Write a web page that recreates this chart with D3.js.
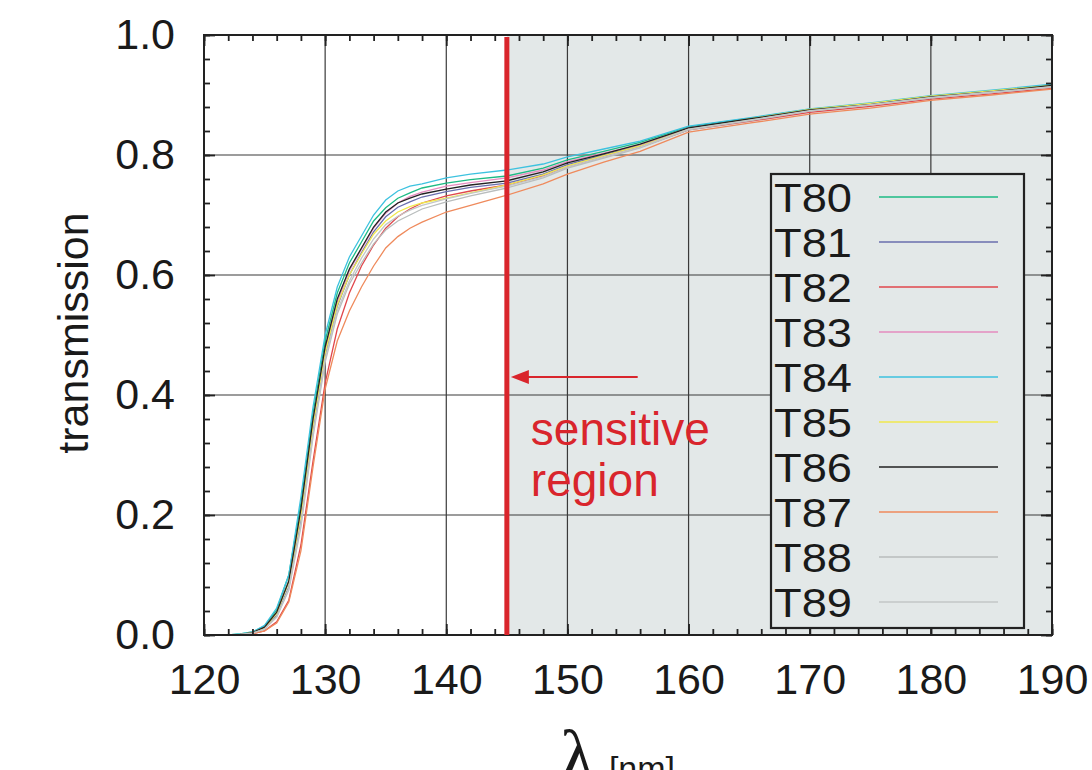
<!DOCTYPE html>
<html>
<head>
<meta charset="utf-8">
<script src="https://cdn.jsdelivr.net/npm/d3@7"></script>
<style>
  body { margin: 0; background: #fff; }
  svg { display: block; font-family: "Liberation Sans", Arial, sans-serif; }
</style>
</head>
<body>
<div id="chart"></div>
<script>
// wavelength grid [nm]
const wavelengths = [122,123,124,125,126,127,128,129,130,131,132,133,134,135,136,137,138,140,142,145,148,150,153,156,160,165,170,175,180,185,190];

const seriesNames = ['T80','T81','T82','T83','T84','T85','T86','T87','T88','T89'];
const seriesColors = ['#1dbb85','#6a6fae','#e0474c','#e58cbf','#3dc2df','#f0e84e','#222222','#ef8a5c','#b9bdbd','#c3c7c7'];

const T80 = [0,0.002,0.005,0.015,0.042,0.10,0.22,0.37,0.49,0.57,0.62,0.655,0.69,0.712,0.728,0.737,0.745,0.753,0.759,0.765,0.778,0.792,0.806,0.821,0.847,0.861,0.876,0.886,0.898,0.906,0.917];
const T81 = [0,0.001,0.003,0.011,0.032,0.08,0.19,0.34,0.465,0.548,0.60,0.637,0.672,0.697,0.713,0.722,0.73,0.739,0.746,0.753,0.768,0.784,0.80,0.815,0.844,0.859,0.875,0.885,0.897,0.906,0.915];
const T82 = [0,0.0,0.002,0.007,0.022,0.058,0.15,0.29,0.42,0.51,0.57,0.615,0.65,0.678,0.697,0.71,0.72,0.732,0.74,0.75,0.765,0.78,0.797,0.813,0.842,0.856,0.871,0.881,0.893,0.902,0.911];
const T83 = [0,0.001,0.004,0.013,0.037,0.09,0.205,0.355,0.475,0.555,0.607,0.643,0.678,0.703,0.72,0.731,0.738,0.748,0.754,0.762,0.775,0.789,0.803,0.817,0.845,0.859,0.874,0.884,0.896,0.904,0.914];
const T84 = [0,0.002,0.005,0.016,0.045,0.10,0.23,0.38,0.50,0.58,0.63,0.665,0.70,0.725,0.74,0.748,0.752,0.762,0.768,0.775,0.785,0.797,0.81,0.823,0.848,0.862,0.877,0.887,0.899,0.908,0.918];
const T85 = [0,0.001,0.004,0.012,0.036,0.088,0.20,0.35,0.47,0.55,0.60,0.635,0.668,0.69,0.705,0.714,0.72,0.728,0.737,0.75,0.767,0.782,0.799,0.815,0.843,0.86,0.876,0.886,0.898,0.907,0.916];
const T86 = [0,0.001,0.004,0.013,0.038,0.09,0.21,0.36,0.48,0.56,0.61,0.645,0.68,0.705,0.72,0.728,0.735,0.743,0.75,0.757,0.772,0.787,0.802,0.818,0.845,0.86,0.875,0.884,0.897,0.905,0.916];
const T87 = [0,0.0,0.002,0.007,0.02,0.055,0.14,0.28,0.41,0.49,0.54,0.58,0.615,0.645,0.664,0.678,0.688,0.705,0.716,0.733,0.752,0.768,0.788,0.806,0.838,0.853,0.868,0.878,0.891,0.90,0.91];
const T88 = [0,0.001,0.003,0.01,0.03,0.075,0.18,0.33,0.455,0.535,0.585,0.62,0.652,0.675,0.69,0.70,0.71,0.722,0.732,0.745,0.762,0.778,0.795,0.812,0.842,0.857,0.873,0.883,0.895,0.904,0.913];
const T89 = [0,0.001,0.003,0.01,0.03,0.078,0.185,0.335,0.46,0.54,0.59,0.628,0.66,0.684,0.698,0.708,0.716,0.727,0.736,0.748,0.764,0.78,0.797,0.813,0.843,0.858,0.874,0.884,0.896,0.905,0.914];

const seriesValues = [T80,T81,T82,T83,T84,T85,T86,T87,T88,T89];

const sensitiveEdge = 145;

var W = 1092, H = 770;
var margin = {top: 35, right: 40, bottom: 135, left: 204};
var width = 1052 - margin.left,
    height = 635 - margin.top;

var svg = d3.select('#chart').append('svg')
  .attr('width', W).attr('height', H);

var x = d3.scaleLinear().domain([120, 190]).range([0, width]);
var y = d3.scaleLinear().domain([0, 1]).range([height, 0]);

var g = svg.append('g').attr('transform', 'translate(' + margin.left + ',' + margin.top + ')');

// shaded sensitive region
g.append('rect')
  .attr('x', x(sensitiveEdge)).attr('y', 0)
  .attr('width', x(190) - x(sensitiveEdge)).attr('height', height)
  .attr('fill', '#e3e8e8');

// grid
g.selectAll('.gx').data(x.ticks(7).slice(1, -1)).enter().append('line')
  .attr('x1', d => x(d)).attr('x2', d => x(d))
  .attr('y1', 0).attr('y2', height)
  .attr('stroke', '#3a3a3a').attr('stroke-width', 1.2);
g.selectAll('.gy').data(y.ticks(5).slice(1, -1)).enter().append('line')
  .attr('x1', 0).attr('x2', width)
  .attr('y1', d => y(d)).attr('y2', d => y(d))
  .attr('stroke', '#3a3a3a').attr('stroke-width', 1.2);

// curves
var line = d3.line()
  .x((d, i) => x(wavelengths[i]))
  .y(d => y(d));

seriesValues.forEach(function(vals, k) {
  g.append('path')
    .datum(vals)
    .attr('d', line)
    .attr('fill', 'none')
    .attr('stroke', seriesColors[k])
    .attr('stroke-width', 1.3);
});

// axes: ticks inward on all four sides
var xMinor = d3.range(120, 191, 2);
var yMinor = d3.range(0, 1.001, 0.04);

function tickAxis(axisFn, scale, values, size, transform) {
  g.append('g')
    .attr('transform', transform || null)
    .call(axisFn(scale).tickValues(values).tickSize(size).tickFormat(''))
    .call(s => s.select('.domain').remove())
    .selectAll('line').attr('stroke', '#222').attr('stroke-width', 1.8);
}
tickAxis(d3.axisBottom, x, xMinor, -6, 'translate(0,' + height + ')');
tickAxis(d3.axisBottom, x, x.ticks(7), -11, 'translate(0,' + height + ')');
tickAxis(d3.axisTop, x, xMinor, -6);
tickAxis(d3.axisTop, x, x.ticks(7), -11);
tickAxis(d3.axisLeft, y, yMinor, -6);
tickAxis(d3.axisLeft, y, y.ticks(5), -11);
tickAxis(d3.axisRight, y, yMinor, -6, 'translate(' + width + ',0)');
tickAxis(d3.axisRight, y, y.ticks(5), -11, 'translate(' + width + ',0)');

// tick labels
g.append('g')
  .attr('transform', 'translate(0,' + height + ')')
  .call(d3.axisBottom(x).ticks(7).tickSize(0).tickPadding(28).tickFormat(d3.format('d')))
  .call(s => s.select('.domain').remove())
  .selectAll('text')
  .attr('font-size', 43).attr('fill', '#1a1a1a')
  .attr('font-family', '"Liberation Sans", Arial, sans-serif');

g.append('g')
  .call(d3.axisLeft(y).ticks(5).tickSize(0).tickPadding(29).tickFormat(d3.format('.1f')))
  .call(s => s.select('.domain').remove())
  .selectAll('text')
  .attr('font-size', 43).attr('fill', '#1a1a1a')
  .attr('font-family', '"Liberation Sans", Arial, sans-serif');

// frame
g.append('rect')
  .attr('width', width).attr('height', height)
  .attr('fill', 'none').attr('stroke', '#222').attr('stroke-width', 2);

// sensitive region marker
g.append('line')
  .attr('x1', x(sensitiveEdge)).attr('x2', x(sensitiveEdge))
  .attr('y1', 2).attr('y2', height)
  .attr('stroke', '#d9252c').attr('stroke-width', 5);

var arrowY = y(0.43);
g.append('line')
  .attr('x1', x(155.8)).attr('x2', x(sensitiveEdge) + 18)
  .attr('y1', arrowY).attr('y2', arrowY)
  .attr('stroke', '#d9252c').attr('stroke-width', 2);
g.append('path')
  .attr('d', 'M' + (x(sensitiveEdge) + 4) + ',' + arrowY +
             'L' + (x(sensitiveEdge) + 22) + ',' + (arrowY - 7) +
             'L' + (x(sensitiveEdge) + 22) + ',' + (arrowY + 7) + 'Z')
  .attr('fill', '#d9252c');

g.append('text')
  .attr('x', x(sensitiveEdge) + 24).attr('y', 445 - margin.top)
  .attr('font-size', 46).attr('fill', '#d9252c')
  .text('sensitive');
g.append('text')
  .attr('x', x(sensitiveEdge) + 24).attr('y', 496 - margin.top)
  .attr('font-size', 46).attr('fill', '#d9252c')
  .text('region');

// legend
var lx = 771 - margin.left, ly = 174 - margin.top, lw = 253, lh = 454;
var legend = g.append('g');
legend.append('rect')
  .attr('x', lx).attr('y', ly).attr('width', lw).attr('height', lh)
  .attr('fill', '#e3e8e8').attr('stroke', '#222').attr('stroke-width', 2.2);

seriesNames.forEach(function(name, k) {
  var cy = ly + 23 + k * 45;
  legend.append('text')
    .attr('x', lx + 3).attr('y', cy + 15)
    .attr('font-size', 41).attr('fill', '#1a1a1a')
    .attr('textLength', 78).attr('lengthAdjust', 'spacingAndGlyphs')
    .text(name);
  legend.append('line')
    .attr('x1', lx + 108).attr('x2', lx + 227)
    .attr('y1', cy).attr('y2', cy)
    .attr('stroke', seriesColors[k]).attr('stroke-width', 1.6);
});

// axis titles
svg.append('text')
  .attr('transform', 'translate(88,333) rotate(-90)')
  .attr('text-anchor', 'middle')
  .attr('font-size', 43).attr('fill', '#1a1a1a')
  .text('transmission');

var xt = svg.append('text')
  .attr('x', 560).attr('y', 780).attr('fill', '#1a1a1a');
xt.append('tspan')
  .attr('font-family', '"Liberation Serif", "DejaVu Serif", serif')
  .attr('font-size', 72).text('λ');
xt.append('tspan')
  .attr('dx', 14).attr('font-size', 34).text('[nm]');
</script>
</body>
</html>
